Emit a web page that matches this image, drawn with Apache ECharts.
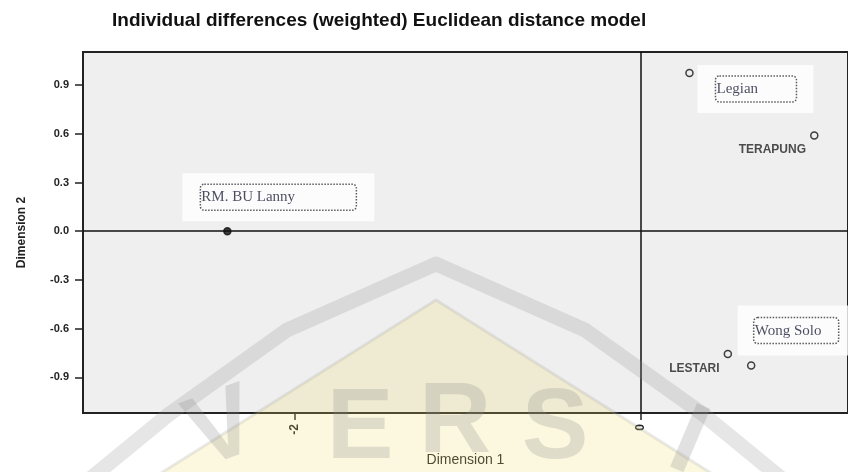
<!DOCTYPE html>
<html>
<head>
<meta charset="utf-8">
<script src="https://cdn.jsdelivr.net/npm/echarts@6/dist/echarts.min.js"></script>
<style>
  html, body { margin: 0; padding: 0; background: #ffffff; }
  #chart { width: 848px; height: 472px; }
</style>
</head>
<body>
<div id="chart"></div>
<script>
const names = ['RM. BU Lanny', 'Legian', 'TERAPUNG', 'LESTARI', 'Wong Solo']
const dim1 = [-2.39, 0.283, 1.005, 0.505, 0.64]
const dim2 = [0.0, 0.975, 0.59, -0.756, -0.828]
const xTicks = [-2, 0]
const yTicks = [-0.9, -0.6, -0.3, 0, 0.3, 0.6, 0.9]

const chart = echarts.init(document.getElementById('chart'))

// pasted text boxes (white block + dotted frame, serif)
const boxLabel = (offset, innerW, pad) => ({
  show: true,
  position: 'inside',
  offset: offset,
  formatter: '{t|{b}}',
  backgroundColor: '#ffffff',
  padding: pad,
  rich: {
    t: {
      fontFamily: 'Liberation Serif',
      fontSize: 15,
      color: '#1e1e3a',
      width: innerW,
      height: 26,
      lineHeight: 26,
      align: 'left',
      borderColor: '#333',
      borderWidth: 1.5,
      borderType: 'dotted',
      borderRadius: 4,
      padding: [0, 0, 0, 1]
    }
  }
})

const plainLabel = (offset) => ({
  show: true,
  position: 'left',
  distance: 4,
  offset: offset,
  formatter: '{b}',
  fontFamily: 'Liberation Sans',
  fontWeight: 'bold',
  fontSize: 12,
  color: '#222'
})

const labelFor = {
  'RM. BU Lanny': boxLabel([51, -34], 155, [11, 18, 11, 18]),
  'Legian': boxLabel([66, 16], 80, [11, 17, 11, 18]),
  'Wong Solo': boxLabel([46, -35], 84, [12, 18, 12, 16]),
  'TERAPUNG': plainLabel([0, 14]),
  'LESTARI': plainLabel([0, 15])
}

const points = names.map((n, i) => ({
  name: n,
  value: [dim1[i], dim2[i]],
  label: labelFor[n],
  itemStyle: i === 0 ? { color: '#111' } : undefined
}))

const wmGray = 'rgba(140,140,140,0.26)'
const wmFont = 'bold 100px "Liberation Sans"'

const option = {
  animation: false,
  backgroundColor: '#ffffff',
  title: {
    text: 'Individual differences (weighted) Euclidean distance model',
    left: 107,
    top: 6,
    textStyle: {
      fontFamily: 'Liberation Sans',
      fontSize: 19,
      fontWeight: 'bold',
      color: '#111'
    }
  },
  grid: {
    left: 83,
    right: -2,
    top: 52,
    bottom: 57,
    show: true,
    backgroundColor: '#efefef',
    borderColor: '#222',
    borderWidth: 2
  },
  xAxis: {
    type: 'value',
    min: -3.225,
    max: 1.2,
    name: 'Dimension 1',
    nameLocation: 'middle',
    nameGap: 40,
    nameTextStyle: { fontFamily: 'Liberation Sans', fontSize: 14, color: '#222' },
    axisLine: { show: true, onZero: false, lineStyle: { color: '#222', width: 2 } },
    axisTick: { show: true, length: 7, customValues: xTicks, lineStyle: { color: '#222', width: 1.5 } },
    axisLabel: {
      customValues: xTicks,
      rotate: 90,
      margin: 11,
      fontFamily: 'Liberation Sans',
      fontWeight: 'bold',
      fontSize: 12,
      color: '#222'
    },
    splitLine: { show: false }
  },
  yAxis: {
    type: 'value',
    min: -1.12,
    max: 1.104,
    name: 'Dimension 2',
    nameLocation: 'middle',
    nameGap: 55,
    nameTextStyle: { fontFamily: 'Liberation Sans', fontSize: 12, fontWeight: 'bold', color: '#222' },
    axisLine: { show: true, onZero: false, lineStyle: { color: '#222', width: 2 } },
    axisTick: { show: true, length: 8, customValues: yTicks, lineStyle: { color: '#222', width: 1.5 } },
    axisLabel: {
      customValues: yTicks,
      margin: 14,
      formatter: v => v.toFixed(1),
      fontFamily: 'Liberation Sans',
      fontWeight: 'bold',
      fontSize: 11,
      color: '#222'
    },
    splitLine: { show: false }
  },
  series: [
    {
      type: 'scatter',
      symbol: 'circle',
      symbolSize: 7,
      itemStyle: { color: '#efefef', borderColor: '#111', borderWidth: 1.5 },
      data: points,
      markLine: {
        silent: true,
        symbol: 'none',
        label: { show: false },
        lineStyle: { color: '#111', width: 1.5, type: 'solid' },
        data: [{ xAxis: 0 }, { yAxis: 0 }]
      },
      z: 3
    }
  ],
  // faint scanned watermark
  graphic: [
    {
      type: 'polygon', silent: true, z: 100,
      shape: { points: [[436, 300], [150, 480], [722, 480]] },
      style: { fill: 'rgba(240,225,110,0.22)' }
    },
    {
      type: 'polyline', silent: true, z: 101,
      shape: { points: [[150, 480], [436, 300], [722, 480]] },
      style: { stroke: 'rgba(150,150,150,0.2)', lineWidth: 3, fill: null }
    },
    {
      type: 'polyline', silent: true, z: 101,
      shape: { points: [[40, 520], [168, 415], [287, 330], [436, 264], [585, 330], [704, 415], [832, 520]] },
      style: { stroke: 'rgba(140,140,140,0.22)', lineWidth: 15, fill: null, lineJoin: 'round' }
    },
    { type: 'text', silent: true, z: 102, x: 240, y: 478, rotation: 0.35, style: { text: 'V', font: wmFont, fill: wmGray, align: 'center', verticalAlign: 'bottom' } },
    { type: 'text', silent: true, z: 102, x: 360, y: 480, style: { text: 'E', font: wmFont, fill: wmGray, align: 'center', verticalAlign: 'bottom' } },
    { type: 'text', silent: true, z: 102, x: 455, y: 474, style: { text: 'R', font: wmFont, fill: wmGray, align: 'center', verticalAlign: 'bottom' } },
    { type: 'text', silent: true, z: 102, x: 555, y: 480, style: { text: 'S', font: wmFont, fill: wmGray, align: 'center', verticalAlign: 'bottom' } },
    { type: 'text', silent: true, z: 102, x: 668, y: 490, rotation: -0.4, style: { text: 'I', font: wmFont, fill: wmGray, align: 'center', verticalAlign: 'bottom' } }
  ]
}

chart.setOption(option)
</script>
</body>
</html>
